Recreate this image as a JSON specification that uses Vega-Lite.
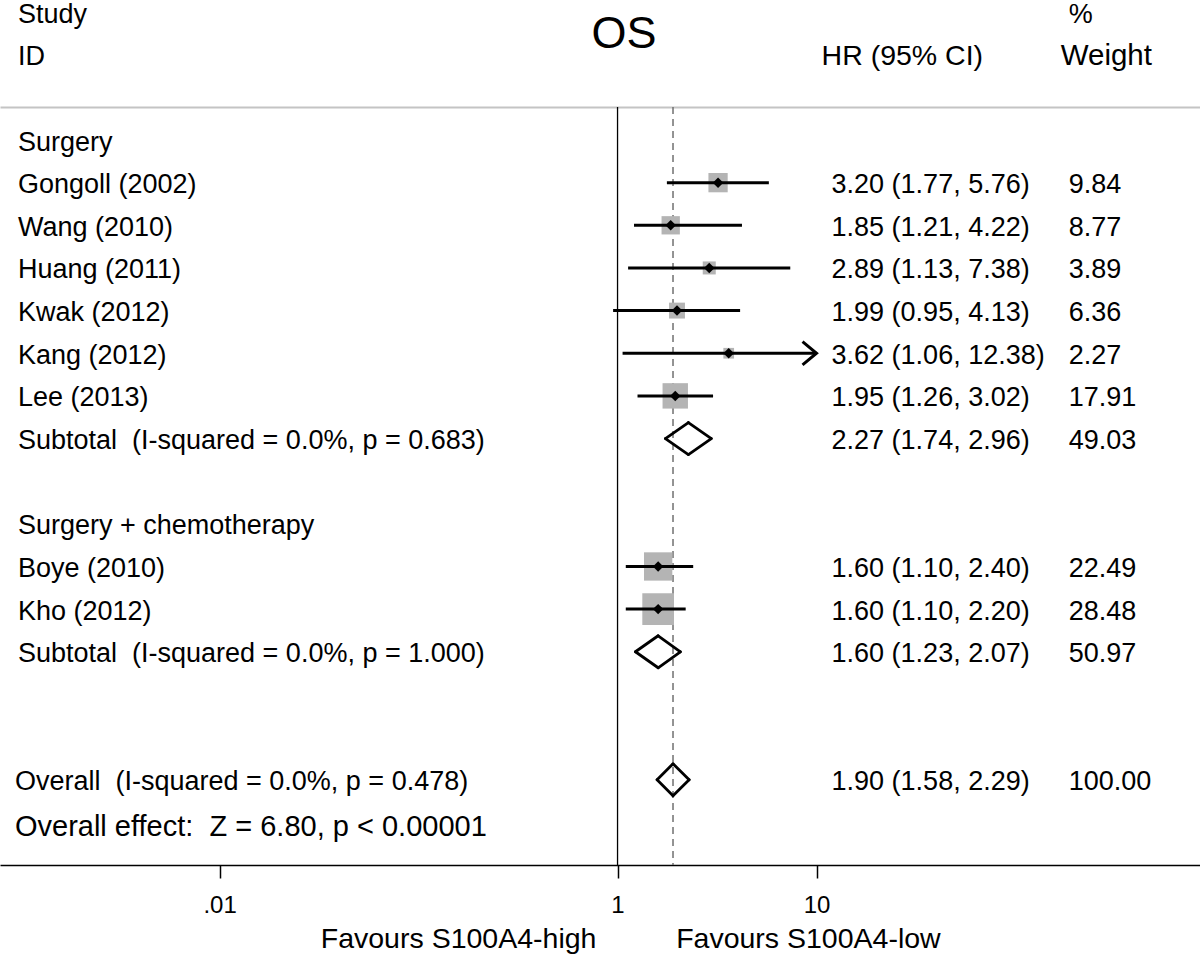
{
  "$schema": "https://vega.github.io/schema/vega-lite/v6.json",
  "width": 1200,
  "height": 758,
  "autosize": {"type": "none"},
  "padding": {"top": 107, "bottom": 92, "left": 0, "right": 0},
  "background": "white",
  "config": {"view": {"stroke": null}, "font": "Liberation Sans"},
  "datasets": {
    "rows": [
      {"row": 0, "kind": "group", "label": "Surgery"},
      {"row": 1, "kind": "study", "label": "Gongoll (2002)", "est": 3.20, "lo": 1.77, "hi": 5.76, "weight": 9.84, "hr": "3.20 (1.77, 5.76)", "wt": "9.84"},
      {"row": 2, "kind": "study", "label": "Wang (2010)", "est": 1.85, "lo": 1.21, "hi": 4.22, "weight": 8.77, "hr": "1.85 (1.21, 4.22)", "wt": "8.77"},
      {"row": 3, "kind": "study", "label": "Huang (2011)", "est": 2.89, "lo": 1.13, "hi": 7.38, "weight": 3.89, "hr": "2.89 (1.13, 7.38)", "wt": "3.89"},
      {"row": 4, "kind": "study", "label": "Kwak (2012)", "est": 1.99, "lo": 0.95, "hi": 4.13, "weight": 6.36, "hr": "1.99 (0.95, 4.13)", "wt": "6.36"},
      {"row": 5, "kind": "study", "label": "Kang (2012)", "est": 3.62, "lo": 1.06, "hi": 12.38, "weight": 2.27, "hr": "3.62 (1.06, 12.38)", "wt": "2.27"},
      {"row": 6, "kind": "study", "label": "Lee (2013)", "est": 1.95, "lo": 1.26, "hi": 3.02, "weight": 17.91, "hr": "1.95 (1.26, 3.02)", "wt": "17.91"},
      {"row": 7, "kind": "pooled", "label": "Subtotal\u00a0 (I-squared = 0.0%, p = 0.683)", "est": 2.27, "lo": 1.74, "hi": 2.96, "weight": 49.03, "hr": "2.27 (1.74, 2.96)", "wt": "49.03"},
      {"row": 9, "kind": "group", "label": "Surgery + chemotherapy"},
      {"row": 10, "kind": "study", "label": "Boye (2010)", "est": 1.60, "lo": 1.10, "hi": 2.40, "weight": 22.49, "hr": "1.60 (1.10, 2.40)", "wt": "22.49"},
      {"row": 11, "kind": "study", "label": "Kho (2012)", "est": 1.60, "lo": 1.10, "hi": 2.20, "weight": 28.48, "hr": "1.60 (1.10, 2.20)", "wt": "28.48"},
      {"row": 12, "kind": "pooled", "label": "Subtotal\u00a0 (I-squared = 0.0%, p = 1.000)", "est": 1.60, "lo": 1.23, "hi": 2.07, "weight": 50.97, "hr": "1.60 (1.23, 2.07)", "wt": "50.97"},
      {"row": 15, "kind": "overall", "label": "Overall\u00a0 (I-squared = 0.0%, p = 0.478)", "est": 1.90, "lo": 1.58, "hi": 2.29, "weight": 100.00, "hr": "1.90 (1.58, 2.29)", "wt": "100.00"},
      {"row": 16, "kind": "effect", "label": "Overall effect:\u00a0 Z = 6.80, p < 0.00001"}
    ],
    "header": [
      {"row": -3, "col": "study", "text": "Study"},
      {"row": -2, "col": "study", "text": "ID"},
      {"row": -2, "col": "title", "text": "OS"},
      {"row": -2, "col": "hr", "text": "HR (95% CI)"},
      {"row": -3, "col": "pct", "text": "%"},
      {"row": -2, "col": "weight", "text": "Weight"}
    ]
  },
  "resolve": {"axis": {"x": "independent"}},
  "layer": [
    {
      "data": {"name": "rows"},
      "transform": [{"filter": "datum.kind == 'overall'"}],
      "mark": {"type": "rule", "color": "black", "strokeWidth": 1.3},
      "encoding": {
        "x": {"datum": 1, "type": "quantitative",
              "scale": {"type": "log", "domain": [0.000788, 845.6], "nice": false},
              "axis": {"orient": "bottom", "values": [0.01, 1, 10],
                       "labelExpr": "datum.value < 0.1 ? '.01' : (datum.value < 5 ? '1' : '10')",
                       "domain": true, "domainColor": "black", "domainWidth": 1.6,
                       "ticks": true, "tickColor": "black", "tickWidth": 1.5, "tickSize": 13,
                       "labelFont": "Liberation Sans", "labelFontSize": 24, "labelColor": "black",
                       "labelPadding": 34, "labelBaseline": "alphabetic",
                       "labelFlush": false, "labelOverlap": false, "labelBound": false,
                       "grid": false, "title": null}}
      }
    },
    {
      "data": {"name": "rows"},
      "transform": [{"filter": "datum.kind == 'overall'"}],
      "mark": {"type": "rule", "color": "#707070", "strokeWidth": 1.5, "strokeDash": [7, 5]},
      "encoding": {
        "x": {"field": "est", "type": "quantitative",
              "scale": {"type": "log", "domain": [0.000788, 845.6], "nice": false},
              "axis": {"orient": "top", "domain": true, "domainColor": "#c4c4c4", "domainWidth": 2,
                       "ticks": false, "labels": false, "grid": false, "title": null}}
      }
    },
    {
      "data": {"name": "rows"},
      "transform": [{"filter": "datum.kind == 'study'"}],
      "mark": {"type": "point", "shape": "square", "filled": true, "color": "#b4b4b4", "opacity": 1},
      "encoding": {
        "x": {"field": "est", "type": "quantitative",
              "scale": {"type": "log", "domain": [0.000788, 845.6], "nice": false},
              "axis": {"orient": "bottom", "values": [0.158, 9.05],
                       "labelExpr": "datum.value < 1 ? 'Favours S100A4-high' : 'Favours S100A4-low'",
                       "domain": false, "ticks": false, "tickSize": 0,
                       "labelFont": "Liberation Sans", "labelFontSize": 28.5, "labelColor": "black",
                       "labelPadding": 82, "labelBaseline": "alphabetic", "labelAlign": "center",
                       "labelLimit": 0,
                       "labelFlush": false, "labelOverlap": false, "labelBound": false,
                       "grid": false, "title": null}},
        "y": {"field": "row", "type": "quantitative",
              "scale": {"domain": [-0.774, 17], "reverse": true, "nice": false, "zero": false}, "axis": null},
        "size": {"field": "weight", "type": "quantitative",
                 "scale": {"domain": [0, 100], "range": [37, 3435]}, "legend": null}
      }
    },
    {
      "data": {"name": "rows"},
      "transform": [{"filter": "datum.kind == 'study' && datum.hi <= 10"}],
      "mark": {"type": "rule", "color": "black", "strokeWidth": 3},
      "encoding": {
        "x": {"field": "lo", "type": "quantitative",
              "scale": {"type": "log", "domain": [0.000788, 845.6], "nice": false}, "axis": null},
        "x2": {"field": "hi"},
        "y": {"field": "row", "type": "quantitative",
              "scale": {"domain": [-0.774, 17], "reverse": true, "nice": false, "zero": false}, "axis": null}
      }
    },
    {
      "data": {"name": "rows"},
      "transform": [{"filter": "datum.kind == 'study' && datum.hi > 10"}],
      "mark": {"type": "rule", "color": "black", "strokeWidth": 3},
      "encoding": {
        "x": {"field": "lo", "type": "quantitative",
              "scale": {"type": "log", "domain": [0.000788, 845.6], "nice": false}, "axis": null},
        "x2": {"datum": 10},
        "y": {"field": "row", "type": "quantitative",
              "scale": {"domain": [-0.774, 17], "reverse": true, "nice": false, "zero": false}, "axis": null}
      }
    },
    {
      "data": {"name": "rows"},
      "transform": [{"filter": "datum.kind == 'study' && datum.hi > 10"}],
      "mark": {"type": "point", "shape": "M-2,-1.65L0,0L-2,1.65", "size": 196, "filled": false, "stroke": "black", "strokeWidth": 3, "strokeJoin": "miter", "opacity": 1},
      "encoding": {
        "x": {"datum": 10, "type": "quantitative",
              "scale": {"type": "log", "domain": [0.000788, 845.6], "nice": false}, "axis": null},
        "y": {"field": "row", "type": "quantitative",
              "scale": {"domain": [-0.774, 17], "reverse": true, "nice": false, "zero": false}, "axis": null}
      }
    },
    {
      "data": {"name": "rows"},
      "transform": [{"filter": "datum.kind == 'study'"}],
      "mark": {"type": "point", "shape": "diamond", "filled": true, "color": "black", "size": 110, "opacity": 1},
      "encoding": {
        "x": {"field": "est", "type": "quantitative",
              "scale": {"type": "log", "domain": [0.000788, 845.6], "nice": false}, "axis": null},
        "y": {"field": "row", "type": "quantitative",
              "scale": {"domain": [-0.774, 17], "reverse": true, "nice": false, "zero": false}, "axis": null}
      }
    },
    {
      "data": {"name": "rows"},
      "transform": [{"filter": "datum.kind == 'pooled' || datum.kind == 'overall'"}, {"fold": ["lo", "hi"], "as": ["end", "endval"]}],
      "mark": {"type": "rule", "color": "black", "strokeWidth": 2.8, "strokeCap": "round", "y2Offset": -16},
      "encoding": {
        "x": {"field": "endval", "type": "quantitative",
              "scale": {"type": "log", "domain": [0.000788, 845.6], "nice": false}, "axis": null},
        "x2": {"field": "est"},
        "y": {"field": "row", "type": "quantitative",
              "scale": {"domain": [-0.774, 17], "reverse": true, "nice": false, "zero": false}, "axis": null},
        "y2": {"field": "row"}
      }
    },
    {
      "data": {"name": "rows"},
      "transform": [{"filter": "datum.kind == 'pooled' || datum.kind == 'overall'"}, {"fold": ["lo", "hi"], "as": ["end", "endval"]}],
      "mark": {"type": "rule", "color": "black", "strokeWidth": 2.8, "strokeCap": "round", "y2Offset": 16},
      "encoding": {
        "x": {"field": "endval", "type": "quantitative",
              "scale": {"type": "log", "domain": [0.000788, 845.6], "nice": false}, "axis": null},
        "x2": {"field": "est"},
        "y": {"field": "row", "type": "quantitative",
              "scale": {"domain": [-0.774, 17], "reverse": true, "nice": false, "zero": false}, "axis": null},
        "y2": {"field": "row"}
      }
    },
    {
      "data": {"name": "rows"},
      "transform": [{"filter": "datum.kind != 'effect' && datum.kind != 'overall'"}],
      "mark": {"type": "text", "align": "left", "baseline": "alphabetic", "dy": 10.5, "font": "Liberation Sans", "fontSize": 27, "color": "black"},
      "encoding": {
        "x": {"datum": 0.00097, "type": "quantitative",
              "scale": {"type": "log", "domain": [0.000788, 845.6], "nice": false}, "axis": null},
        "y": {"field": "row", "type": "quantitative",
              "scale": {"domain": [-0.774, 17], "reverse": true, "nice": false, "zero": false}, "axis": null},
        "text": {"field": "label"}
      }
    },
    {
      "data": {"name": "rows"},
      "transform": [{"filter": "datum.kind == 'overall'"}],
      "mark": {"type": "text", "align": "left", "baseline": "alphabetic", "dy": 10.5, "dx": -3, "font": "Liberation Sans", "fontSize": 27, "color": "black"},
      "encoding": {
        "x": {"datum": 0.00097, "type": "quantitative",
              "scale": {"type": "log", "domain": [0.000788, 845.6], "nice": false}, "axis": null},
        "y": {"field": "row", "type": "quantitative",
              "scale": {"domain": [-0.774, 17], "reverse": true, "nice": false, "zero": false}, "axis": null},
        "text": {"field": "label"}
      }
    },
    {
      "data": {"name": "rows"},
      "transform": [{"filter": "datum.kind == 'effect'"}],
      "mark": {"type": "text", "align": "left", "baseline": "alphabetic", "dy": 13.6, "dx": -3, "font": "Liberation Sans", "fontSize": 29, "color": "black"},
      "encoding": {
        "x": {"datum": 0.00097, "type": "quantitative",
              "scale": {"type": "log", "domain": [0.000788, 845.6], "nice": false}, "axis": null},
        "y": {"field": "row", "type": "quantitative",
              "scale": {"domain": [-0.774, 17], "reverse": true, "nice": false, "zero": false}, "axis": null},
        "text": {"field": "label"}
      }
    },
    {
      "data": {"name": "rows"},
      "transform": [{"filter": "isValid(datum.hr)"}],
      "mark": {"type": "text", "align": "left", "baseline": "alphabetic", "dy": 10.5, "font": "Liberation Sans", "fontSize": 27, "color": "black"},
      "encoding": {
        "x": {"datum": 11.9, "type": "quantitative",
              "scale": {"type": "log", "domain": [0.000788, 845.6], "nice": false}, "axis": null},
        "y": {"field": "row", "type": "quantitative",
              "scale": {"domain": [-0.774, 17], "reverse": true, "nice": false, "zero": false}, "axis": null},
        "text": {"field": "hr"}
      }
    },
    {
      "data": {"name": "rows"},
      "transform": [{"filter": "isValid(datum.wt)"}],
      "mark": {"type": "text", "align": "left", "baseline": "alphabetic", "dy": 10.5, "font": "Liberation Sans", "fontSize": 27, "color": "black"},
      "encoding": {
        "x": {"datum": 185, "type": "quantitative",
              "scale": {"type": "log", "domain": [0.000788, 845.6], "nice": false}, "axis": null},
        "y": {"field": "row", "type": "quantitative",
              "scale": {"domain": [-0.774, 17], "reverse": true, "nice": false, "zero": false}, "axis": null},
        "text": {"field": "wt"}
      }
    },
    {
      "data": {"name": "header"},
      "transform": [{"filter": "datum.col == 'study'"}],
      "mark": {"type": "text", "align": "left", "baseline": "alphabetic", "dy": 10.5, "font": "Liberation Sans", "fontSize": 27, "color": "black"},
      "encoding": {
        "x": {"datum": 0.00097, "type": "quantitative",
              "scale": {"type": "log", "domain": [0.000788, 845.6], "nice": false}, "axis": null},
        "y": {"field": "row", "type": "quantitative",
              "scale": {"domain": [-0.774, 17], "reverse": true, "nice": false, "zero": false}, "axis": null},
        "text": {"field": "text"}
      }
    },
    {
      "data": {"name": "header"},
      "transform": [{"filter": "datum.col == 'title'"}],
      "mark": {"type": "text", "align": "center", "baseline": "alphabetic", "dy": -6.5, "font": "Liberation Sans", "fontSize": 45, "color": "black"},
      "encoding": {
        "x": {"datum": 1.077, "type": "quantitative",
              "scale": {"type": "log", "domain": [0.000788, 845.6], "nice": false}, "axis": null},
        "y": {"field": "row", "type": "quantitative",
              "scale": {"domain": [-0.774, 17], "reverse": true, "nice": false, "zero": false}, "axis": null},
        "text": {"field": "text"}
      }
    },
    {
      "data": {"name": "header"},
      "transform": [{"filter": "datum.col == 'hr'"}],
      "mark": {"type": "text", "align": "left", "baseline": "alphabetic", "dy": 10.5, "dx": -10, "font": "Liberation Sans", "fontSize": 28.5, "color": "black"},
      "encoding": {
        "x": {"datum": 11.9, "type": "quantitative",
              "scale": {"type": "log", "domain": [0.000788, 845.6], "nice": false}, "axis": null},
        "y": {"field": "row", "type": "quantitative",
              "scale": {"domain": [-0.774, 17], "reverse": true, "nice": false, "zero": false}, "axis": null},
        "text": {"field": "text"}
      }
    },
    {
      "data": {"name": "header"},
      "transform": [{"filter": "datum.col == 'pct'"}],
      "mark": {"type": "text", "align": "left", "baseline": "alphabetic", "dy": 10.5, "font": "Liberation Sans", "fontSize": 27, "color": "black"},
      "encoding": {
        "x": {"datum": 185, "type": "quantitative",
              "scale": {"type": "log", "domain": [0.000788, 845.6], "nice": false}, "axis": null},
        "y": {"field": "row", "type": "quantitative",
              "scale": {"domain": [-0.774, 17], "reverse": true, "nice": false, "zero": false}, "axis": null},
        "text": {"field": "text"}
      }
    },
    {
      "data": {"name": "header"},
      "transform": [{"filter": "datum.col == 'weight'"}],
      "mark": {"type": "text", "align": "left", "baseline": "alphabetic", "dy": 10.5, "dx": -8, "font": "Liberation Sans", "fontSize": 29.5, "color": "black"},
      "encoding": {
        "x": {"datum": 185, "type": "quantitative",
              "scale": {"type": "log", "domain": [0.000788, 845.6], "nice": false}, "axis": null},
        "y": {"field": "row", "type": "quantitative",
              "scale": {"domain": [-0.774, 17], "reverse": true, "nice": false, "zero": false}, "axis": null},
        "text": {"field": "text"}
      }
    }
  ]
}
